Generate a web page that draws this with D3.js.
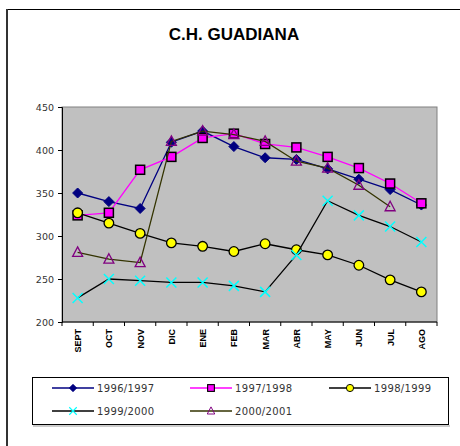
<!DOCTYPE html>
<html>
<head>
<meta charset="utf-8">
<script src="https://cdn.jsdelivr.net/npm/d3@7"></script>
<style>
  body { margin: 0; background: #fff; }
  svg { display: block; font-family: Arial, "Liberation Sans", sans-serif; }
</style>
</head>
<body>
<div id="chart"></div>
<script>
// months of the hydrological year
const months = ["SEPT", "OCT", "NOV", "DIC", "ENE", "FEB", "MAR", "ABR", "MAY", "JUN", "JUL", "AGO"];
const yTicks = [200, 250, 300, 350, 400, 450];

const s9697 = [350, 340, 332, 409, 422, 404, 391, 389, 378, 366, 354, 336];
const s9798 = [324, 327, 377, 392, 414, 419, 407, 403, 392, 379, 361, 338];
const s9899 = [327, 315, 303, 292, 288, 282, 291, 284, 278, 266, 249, 235];
const s9900 = [228, 250, 248, 246, 246, 242, 235, 278, 341, 324, 311, 293];
const s0001 = [281, 273, 269, 410, 422, 418, 410, 387, 379, 359, 334, null];

const series = [
    { name: "1996/1997", values: s9697, line: "#000080", marker: "diamond", fill: "#000080", stroke: "#000080" },
    { name: "1997/1998", values: s9798, line: "#FF00FF", marker: "square", fill: "#FF00FF", stroke: "#000" },
    { name: "1998/1999", values: s9899, line: "#000", marker: "circle", fill: "#FFFF00", stroke: "#000" },
    { name: "1999/2000", values: s9900, line: "#000", marker: "cross", fill: "none", stroke: "#00FFFF" },
    { name: "2000/2001", values: s0001, line: "#333300", marker: "triangle", fill: "none", stroke: "#800080" }
];

const width = 460;
const height = 446;
const margin = { left: 62, top: 107, right: 437, bottom: 322 };

const svg = d3.select("#chart")
    .append("svg")
    .attr("width", width)
    .attr("height", height);

// outer chart frame
svg.append("rect")
    .attr("x", 6.5).attr("y", 9.5)
    .attr("width", 470).attr("height", 460)
    .attr("fill", "#fff")
    .attr("stroke", "#000");
svg.append("line")
    .attr("x1", 7).attr("x2", 7).attr("y1", 9).attr("y2", height)
    .attr("stroke", "#333").attr("stroke-width", 2);

svg.append("text")
    .attr("x", 234).attr("y", 40)
    .attr("text-anchor", "middle")
    .attr("font-size", 17)
    .attr("font-weight", "bold")
    .text("C.H. GUADIANA");

const x = d3.scaleBand()
    .domain(months)
    .range([margin.left, margin.right]);

const y = d3.scaleLinear()
    .domain([200, 450])
    .range([margin.bottom, margin.top]);

// plot area
svg.append("rect")
    .attr("x", margin.left).attr("y", margin.top)
    .attr("width", margin.right - margin.left)
    .attr("height", margin.bottom - margin.top)
    .attr("fill", "#C0C0C0")
    .attr("stroke", "#808080");

// y axis
const yAxis = svg.append("g")
    .attr("transform", `translate(${margin.left},0)`)
    .call(d3.axisLeft(y).tickValues(yTicks).tickSize(4).tickPadding(4));
yAxis.select(".domain").attr("stroke", "#000");
yAxis.selectAll("text")
    .attr("font-size", 9.5)
    .attr("font-family", "'DejaVu Sans', sans-serif")
    .attr("fill", "#333");

// x axis, ticks between categories
const xAxis = svg.append("g")
    .attr("transform", `translate(0,${margin.bottom})`);
xAxis.append("line")
    .attr("x1", margin.left).attr("x2", margin.right)
    .attr("stroke", "#000");
xAxis.selectAll("line.tick")
    .data(d3.range(months.length + 1))
    .join("line")
    .attr("class", "tick")
    .attr("x1", i => margin.left + i * x.step())
    .attr("x2", i => margin.left + i * x.step())
    .attr("y2", 4)
    .attr("stroke", "#000");
xAxis.selectAll("text")
    .data(months)
    .join("text")
    .attr("transform", d => `translate(${x(d) + x.bandwidth() / 2 + 3.5},7) rotate(-90)`)
    .attr("text-anchor", "end")
    .attr("font-size", 9)
    .attr("font-weight", "bold")
    .text(d => d);

const cx = d => x(d) + x.bandwidth() / 2;

const line = d3.line()
    .defined(d => d.v != null)
    .x(d => cx(d.m))
    .y(d => y(d.v));

function drawMarker(g, type, fill, stroke) {
    if (type === "diamond") {
        g.append("path").attr("d", "M0,-5L5,0L0,5L-5,0Z").attr("fill", fill).attr("stroke", stroke);
    } else if (type === "square") {
        g.append("rect").attr("x", -4.5).attr("y", -4.5).attr("width", 9).attr("height", 9)
            .attr("fill", fill).attr("stroke", stroke).attr("stroke-width", 1.5);
    } else if (type === "circle") {
        g.append("circle").attr("r", 4.8).attr("fill", fill).attr("stroke", stroke).attr("stroke-width", 1.3);
    } else if (type === "cross") {
        g.append("path").attr("d", "M-5,-5L5,5M-5,5L5,-5").attr("fill", "none").attr("stroke", stroke).attr("stroke-width", 1.5);
    } else if (type === "triangle") {
        g.append("path").attr("d", "M0,-5.5L5,4L-5,4Z").attr("fill", fill).attr("stroke", stroke).attr("stroke-width", 1.3);
    }
}

series.forEach(s => {
    const pts = s.values.map((v, i) => ({ m: months[i], v: v }));
    svg.append("path")
        .datum(pts)
        .attr("d", line)
        .attr("fill", "none")
        .attr("stroke", s.line)
        .attr("stroke-width", 1.3);
    pts.filter(p => p.v != null).forEach(p => {
        const g = svg.append("g").attr("transform", `translate(${cx(p.m)},${y(p.v)})`);
        drawMarker(g, s.marker, s.fill, s.stroke);
    });
});

// legend
const legend = svg.append("g");
legend.append("rect")
    .attr("x", 32.5).attr("y", 377.5)
    .attr("width", 416).attr("height", 47)
    .attr("fill", "#fff")
    .attr("stroke", "#000");
legend.append("line")
    .attr("x1", 33).attr("x2", 450).attr("y1", 426).attr("y2", 426)
    .attr("stroke", "#999");

const legendPos = [[52, 388], [190, 388], [329, 388], [52, 411], [190, 411]];
series.forEach((s, i) => {
    const [lx, ly] = legendPos[i];
    legend.append("line")
        .attr("x1", lx).attr("x2", lx + 42)
        .attr("y1", ly).attr("y2", ly)
        .attr("stroke", s.line).attr("stroke-width", 1.3);
    const g = legend.append("g").attr("transform", `translate(${lx + 21},${ly}) scale(0.75)`);
    drawMarker(g, s.marker, s.fill, s.stroke);
    legend.append("text")
        .attr("x", lx + 45).attr("y", ly + 3.5)
        .attr("font-size", 10)
        .attr("letter-spacing", 0.35)
        .attr("font-family", "'DejaVu Sans', sans-serif")
        .attr("fill", "#333")
        .text(s.name);
});
</script>
</body>
</html>
